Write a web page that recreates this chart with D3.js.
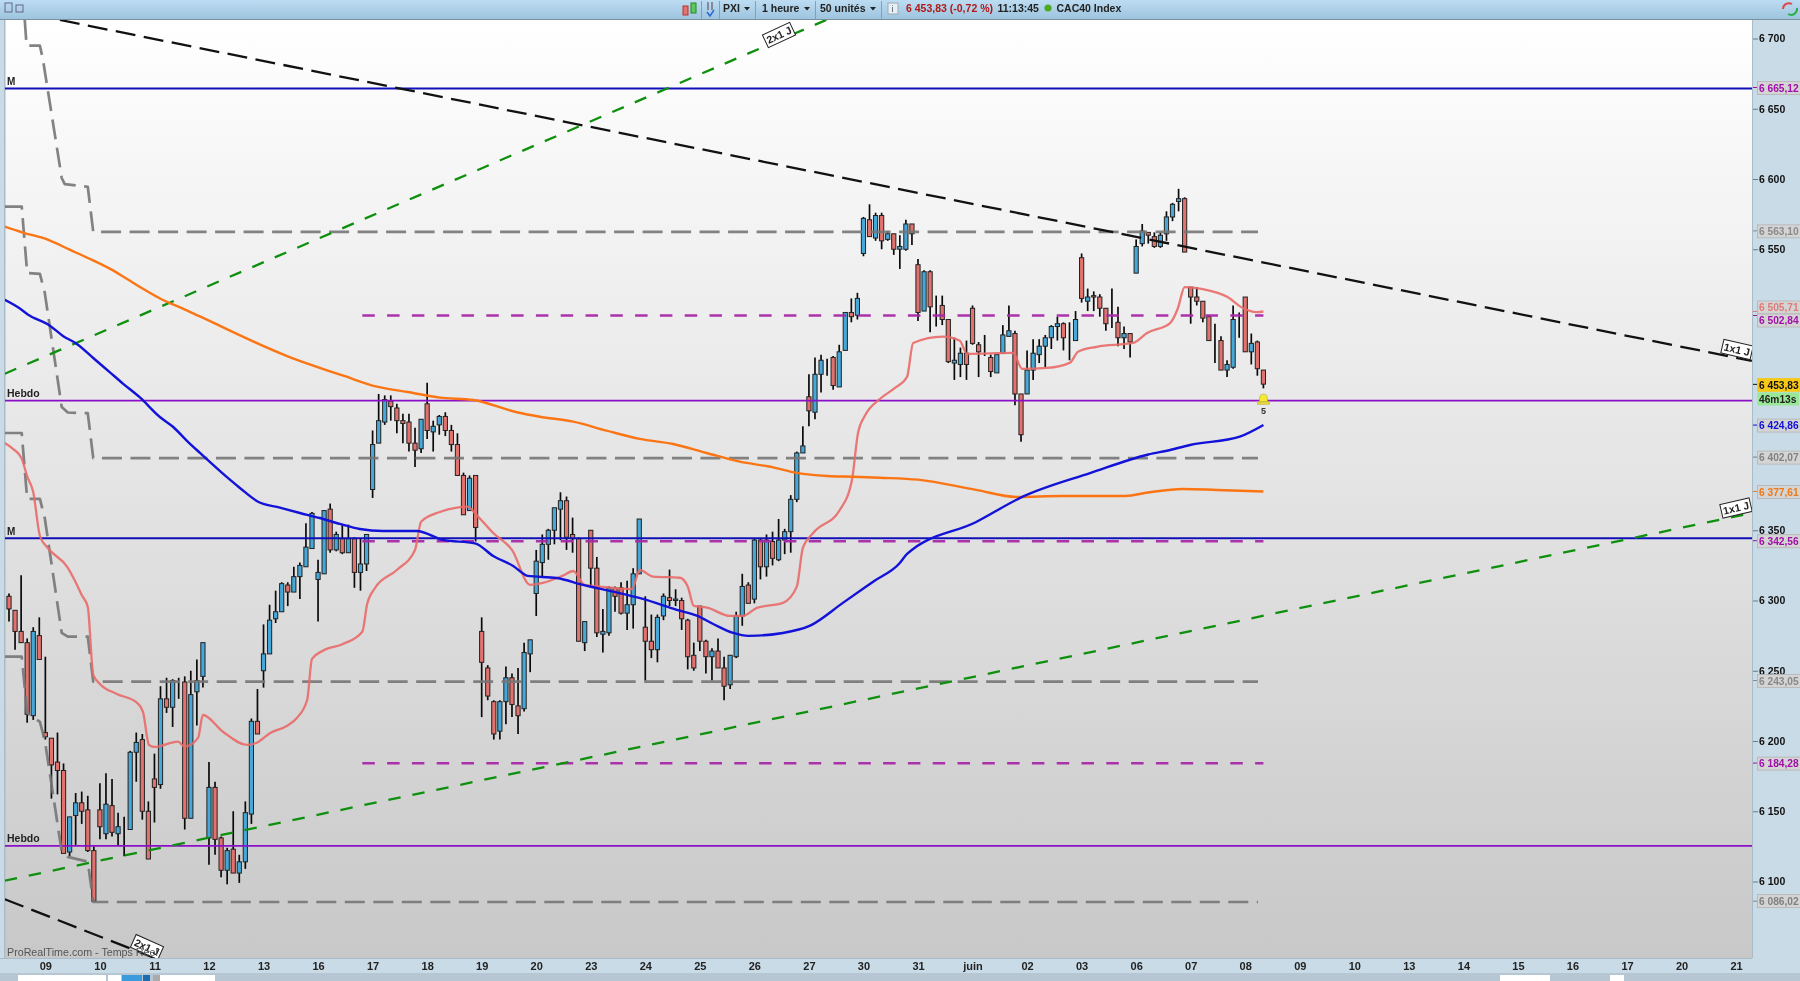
<!DOCTYPE html>
<html><head><meta charset="utf-8">
<style>
html,body{margin:0;padding:0;background:#c9dbe6;overflow:hidden}
svg{display:block;filter:blur(0.5px)}
text{font-family:"Liberation Sans",Arial,sans-serif}
</style>
<script src="https://cdn.jsdelivr.net/npm/d3@7/dist/d3.min.js"></script>
</head><body><svg id="c" width="1800" height="981"></svg>
<script>
// ---- DATA (CAC40, 1 hour candles) ----
const dayLabels=["09","10","11","12","13","16","17","18","19","20","23","24","25","26","27","30","31","juin","02","03","06","07","08","09","10","13","14","15","16","17","20","21"];
const priceTicks=[6100,6150,6200,6250,6300,6350,6550,6600,6650,6700];
const opens=[6303,6293,6278,6270,6218,6275,6206,6202,6185,6179,
6121,6147,6156,6151,6122,6151,6134,6154,6134,6138,
6137,6192,6201,6150,6173,6169,6230,6224,6242,6242,
6145,6235,6246,6131,6167,6131,6108,6123,6106,6114,
6148,6214,6250,6262,6287,6292,6311,6306,6317,6324,
6337,6315,6319,6365,6336,6344,6334,6344,6320,6326,
6379,6412,6427,6442,6437,6428,6427,6412,6408,6440,
6420,6425,6431,6421,6411,6389,6364,6389,6278,6252,
6228,6207,6228,6245,6225,6223,6262,6305,6327,6340,
6350,6365,6371,6347,6344,6270,6350,6323,6276,6277,
6309,6309,6291,6297,6319,6281,6271,6265,6289,6302,
6300,6300,6286,6261,6296,6271,6260,6264,6252,6240,
6260,6289,6311,6301,6343,6324,6342,6329,6343,6349,
6372,6405,6445,6434,6461,6472,6473,6452,6478,6505,
6503,6547,6571,6558,6574,6557,6561,6550,6550,6568,
6539,6506,6534,6510,6510,6500,6469,6468,6476,6508,
6482,6475,6473,6462,6476,6488,6490,6447,6447,6464,
6475,6481,6487,6495,6497,6485,6485,6544,6513,6517,
6516,6508,6497,6498,6487,6490,6533,6554,6562,6559,
6552,6561,6573,6584,6586,6523,6516,6513,6502,6485,
6485,6464,6466,6500,6516,6477,6484,6464];
const highs=[6305,6293,6318,6273,6281,6288,6260,6202,6206,6184,
6146,6163,6164,6161,6125,6170,6177,6173,6149,6146,
6193,6206,6205,6157,6191,6239,6245,6244,6245,6246,
6250,6258,6270,6185,6171,6132,6124,6150,6119,6157,
6216,6237,6283,6297,6307,6313,6313,6324,6327,6355,
6363,6329,6364,6369,6349,6354,6354,6345,6344,6347,
6421,6447,6446,6446,6440,6433,6433,6423,6429,6455,
6428,6432,6434,6425,6419,6391,6389,6389,6288,6254,
6229,6229,6253,6248,6252,6270,6272,6336,6347,6351,
6366,6377,6374,6359,6345,6285,6350,6331,6294,6310,
6310,6313,6314,6323,6358,6303,6290,6290,6305,6322,
6308,6302,6287,6270,6296,6272,6266,6273,6260,6261,
6292,6319,6313,6344,6344,6347,6349,6358,6351,6375,
6406,6424,6461,6473,6475,6472,6474,6482,6505,6515,
6519,6573,6582,6576,6576,6563,6561,6560,6571,6568,
6543,6535,6535,6517,6517,6500,6487,6480,6485,6510,
6484,6489,6475,6475,6496,6510,6492,6447,6478,6486,
6486,6489,6496,6502,6498,6498,6506,6547,6522,6520,
6518,6508,6522,6509,6495,6490,6557,6568,6562,6562,
6562,6577,6583,6593,6587,6523,6523,6513,6503,6497,
6488,6471,6510,6505,6516,6490,6485,6464];
const lows=[6285,6265,6270,6213,6215,6258,6201,6159,6162,6120,
6118,6126,6141,6121,6086,6130,6130,6132,6126,6118,
6137,6171,6144,6116,6142,6166,6220,6210,6230,6137,
6145,6211,6238,6112,6119,6103,6098,6106,6099,6109,
6141,6205,6238,6262,6284,6292,6296,6306,6301,6324,
6337,6285,6319,6334,6335,6333,6334,6309,6307,6321,
6373,6412,6425,6428,6419,6412,6406,6395,6405,6415,
6406,6418,6417,6406,6389,6361,6364,6342,6217,6229,
6201,6201,6212,6217,6205,6221,6249,6289,6317,6329,
6340,6343,6336,6334,6271,6264,6309,6274,6263,6275,
6292,6290,6279,6280,6319,6243,6259,6256,6286,6296,
6296,6279,6251,6250,6264,6248,6243,6252,6229,6237,
6259,6282,6298,6298,6315,6317,6325,6328,6333,6334,
6370,6405,6424,6429,6448,6460,6450,6452,6478,6498,
6500,6545,6559,6556,6550,6556,6546,6536,6549,6553,
6499,6506,6491,6495,6496,6469,6457,6459,6457,6482,
6459,6474,6459,6462,6476,6488,6439,6413,6447,6457,
6469,6466,6479,6485,6478,6471,6485,6512,6506,6506,
6502,6492,6494,6481,6479,6473,6533,6552,6554,6551,
6551,6556,6570,6577,6548,6497,6510,6498,6485,6469,
6464,6459,6465,6487,6477,6468,6460,6451];
const closes=[6294,6278,6270,6219,6278,6258,6203,6183,6179,6120,
6146,6156,6150,6122,6086,6139,6155,6135,6139,6138,
6192,6199,6150,6116,6167,6230,6224,6243,6242,6145,
6233,6243,6270,6167,6130,6108,6122,6106,6114,6149,
6214,6205,6262,6286,6292,6312,6306,6317,6325,6338,
6362,6320,6364,6336,6347,6334,6344,6320,6326,6347,
6411,6428,6443,6438,6428,6426,6412,6407,6429,6421,
6424,6431,6421,6411,6389,6361,6387,6352,6256,6232,
6205,6228,6245,6226,6218,6263,6272,6328,6340,6350,
6366,6371,6345,6344,6271,6285,6323,6277,6278,6309,
6303,6291,6297,6319,6358,6271,6265,6288,6303,6300,
6301,6287,6260,6252,6271,6260,6264,6252,6239,6261,
6289,6310,6298,6343,6324,6343,6330,6343,6349,6372,
6405,6410,6435,6461,6471,6472,6453,6477,6505,6502,
6515,6572,6559,6574,6556,6561,6550,6552,6568,6561,
6505,6534,6509,6510,6500,6470,6471,6476,6468,6483,
6477,6475,6463,6475,6489,6492,6447,6418,6464,6476,
6481,6487,6495,6497,6487,6485,6500,6515,6516,6516,
6508,6497,6497,6487,6490,6484,6552,6563,6560,6552,
6560,6573,6582,6586,6548,6516,6513,6501,6485,6485,
6464,6468,6500,6500,6477,6483,6465,6454];

const orangeBars=[-0.7,2.3,6.3,10.1,13,16.7,19.5,22.1,25.4,28.7,31.5,45.9,55.3,60.7,65.8,71.1,76.6,83.8,87.6,93.1,98.6,104.1,109.6,115.1,120.6,126.1,130,135,139.3,143.7,150,159.6,166.2,173.8,184.2,188,193.6,199.3,207];
const orangeVals=[6566.1,6561.9,6557,6549.5,6543.8,6536,6528.8,6521.9,6513.9,6507.8,6502.2,6474,6459.8,6452.2,6448.4,6444.4,6442.7,6434,6430.8,6427.3,6420.9,6415,6411.4,6405,6398.8,6394.8,6390.8,6388.6,6388.1,6387.4,6386,6378.7,6373.7,6374.4,6374.4,6376.9,6379.4,6378.7,6377.6];
const blueBars=[-0.7,1.8,3.1,6.8,8.9,11.2,13.9,16.7,18.8,21.6,24.9,27.1,29.4,31.5,36.5,38.1,41.1,44.7,48,51.3,54.6,57.9,61.7,67.3,71.6,76.9,79.9,83.2,85.6,90.4,94.7,99.7,104.6,110.2,113.5,116.2,119.5,122,127.7,132.2,137.6,142.6,147,148.2,159.6,167.2,178.5,188,191.6,194.9,203.1,207];
const blueVals=[6514,6507.8,6503.6,6495.4,6488.3,6482.6,6472.6,6462.2,6454.4,6444.5,6430.6,6423.5,6413.5,6405.1,6385.8,6380.1,6370.3,6366.1,6362.3,6358.7,6354.5,6350.9,6349.5,6349.5,6343.1,6340.7,6331.7,6324.6,6317.5,6316,6311.1,6306.3,6301.1,6293.3,6289.2,6283.3,6276.9,6274.8,6276.9,6282.1,6298.3,6313.4,6326.7,6333.1,6355.9,6373.7,6390.8,6403.9,6407.1,6410.7,6416.6,6424.9];
const salmonBars=[-0.7,0.7,2.1,3,4,5.1,6.4,9.6,10.9,12,13,13.9,15,17.8,21.1,22.1,23.1,23.9,27.9,29,31.2,32,35.3,39.3,40.9,43.1,45.9,47.5,49.2,50,51.8,55.1,58.3,59.1,60.4,64,67,68,71.1,73.9,75.6,77.4,79.9,83,86,88.1,91.4,93.1,95,97.5,102.8,104.1,106.3,110.7,112,113,115.2,119,121.1,123.4,127.7,130,131,132.7,137.1,139.1,140.1,141.3,143.7,146.2,148.2,149.2,154.1,156.9,158.1,165.7,167.2,171.3,175.1,176.4,179.5,185.5,187.8,191.6,192.9,194,197,201,203.6,205.9,207];
const salmonVals=[6412.1,6407.8,6401,6388.3,6377.2,6345.9,6337.4,6323.9,6313.9,6303.9,6295.4,6247,6240.6,6233.5,6227.3,6220.9,6197.2,6195.8,6199.5,6196,6202.2,6218.5,6206.6,6197.2,6198.8,6205.7,6210.9,6216.4,6229.2,6258.4,6264.3,6269,6277.8,6297.5,6308.9,6321.7,6336,6356.1,6363,6366.1,6366.8,6359.7,6348,6336,6311.1,6312.5,6317.7,6321,6311.1,6309.9,6308.2,6321.7,6317,6316.2,6309.9,6296.1,6294.9,6289,6289,6294.7,6298.3,6309.9,6337.4,6348,6364.4,6385.8,6419.2,6432,6443.4,6451.3,6459.3,6483.3,6487.8,6484.9,6475.5,6476.2,6464.8,6465.5,6469.3,6477.1,6480.6,6483.3,6490.4,6497.5,6508.2,6523.1,6521.7,6516.2,6508.2,6505.3,6505.7];

// pivot levels: stepped part then flat part
const stepBars=[-0.7,2.1,3,5.1,5.9,8.7,9.7,13,13.9,206.1];
const stepA=[[2.6,6713.2],[2.9,6694.9],[5.1,6694.9],[5.6,6685.1],[8.7,6600.7],[9.2,6596.4],[13,6594.5],[13.9,6562.4],[206.1,6562.4]];
const stepB=[6580.4,6580.4,6533.1,6532.5,6519.1,6437.7,6433.8,6433.3,6401.4,6401.4];
const stepC=[6419.2,6419.2,6372.3,6372.3,6358.7,6276.9,6274.3,6274.3,6242.3,6242.3];
const stepD=[6260,6260,6220,6213.6,6200.7,6121.3,6117.5,6114.1,6085.4,6085.4];

const purpleLevels=[6442.2,6125.4];
const navyLevels=[6664.4,6344.3];
const magentaLevels=[6502.84,6342.1,6184.1];
const blackTrends=[[8.4,6713.2,287.6,6470.5],[-0.7,6087.4,24.1,6045.4]];
const greenTrends=[[-0.7,6461.4,135,6713.5],[-0.7,6100.6,287.6,6362.3]];

const sideLabels=["6 665,12","6 563,10","6 505,71","6 502,84","6 453,83","6 424,86","6 402,07","6 377,61","6 342,56","6 243,05","6 184,28","6 086,02"];
const sideValues=[6665.12,6563.10,6505.71,6502.84,6453.83,6424.86,6402.07,6377.61,6342.56,6243.05,6184.28,6086.02];
const sideColors=["#a010a8","#8a8a8a","#e07a78","#a010a8","#111111","#1010d8","#808080","#f07818","#a010a8","#888888","#a010a8","#808080"];
const sideShift=[0.5,0.5,-4,5,0.5,0.5,0.5,0.5,0.5,0.5,0.5,0];

// ---- SCALES ----
const W=1800,H=981;
const plot={l:5,r:1752,t:20,b:958};
const x=d3.scaleLinear().domain([0,207]).range([9,9+6.06*207]);
const y=d3.scaleLinear().domain([6700,6100]).range([38.5,881.5]);
const svg=d3.select("#c");
const defs=svg.append("defs");
const bg=defs.append("linearGradient").attr("id","bg").attr("x1",0).attr("x2",0).attr("y1",0).attr("y2",1);
bg.append("stop").attr("offset",0).attr("stop-color","#ffffff");
bg.append("stop").attr("offset",1).attr("stop-color","#c8c8c8");
const tb=defs.append("linearGradient").attr("id","tb").attr("x1",0).attr("x2",0).attr("y1",0).attr("y2",1);
tb.append("stop").attr("offset",0).attr("stop-color","#bcdcf2");
tb.append("stop").attr("offset",1).attr("stop-color","#9ec4de");
defs.append("clipPath").attr("id","pc").append("rect").attr("x",plot.l).attr("y",plot.t).attr("width",plot.r-plot.l).attr("height",plot.b-plot.t);

svg.append("rect").attr("width",W).attr("height",H).attr("fill","#c9dbe6");
svg.append("rect").attr("x",plot.l).attr("y",plot.t).attr("width",plot.r-plot.l).attr("height",plot.b-plot.t).attr("fill","url(#bg)");
svg.append("line").attr("x1",plot.r+0.5).attr("x2",plot.r+0.5).attr("y1",plot.t).attr("y2",plot.b).attr("stroke","#a8bcc8");
svg.append("line").attr("x1",0).attr("x2",plot.r).attr("y1",plot.b+0.5).attr("y2",plot.b+0.5).attr("stroke","#a8bcc8");
svg.append("rect").attr("x",4).attr("y",plot.t).attr("width",1.5).attr("height",plot.b-plot.t).attr("fill","#a8bcc8");

const g=svg.append("g").attr("clip-path","url(#pc)");

// candles
const bars=d3.range(opens.length);
const wicks=g.append("g");
wicks.selectAll("line").data(bars).join("line")
 .attr("x1",i=>x(i)).attr("x2",i=>x(i)).attr("y1",i=>y(highs[i])).attr("y2",i=>y(lows[i]))
 .attr("stroke","#0a0a0a").attr("stroke-width",1.7);
const bodies=g.append("g");
bodies.selectAll("rect").data(bars).join("rect")
 .attr("x",i=>x(i)-2.1).attr("width",4.2)
 .attr("y",i=>y(Math.max(opens[i],closes[i])))
 .attr("height",i=>Math.abs(y(opens[i])-y(closes[i])))
 .attr("fill",i=>closes[i]<opens[i]?"#e2726e":closes[i]>opens[i]?"#46a8d8":"#111")
 .attr("stroke","#222").attr("stroke-width",1);

// horizontal solid levels
g.selectAll(".pu").data(purpleLevels).join("line").attr("class","pu")
 .attr("x1",plot.l).attr("x2",plot.r).attr("y1",d=>y(d)).attr("y2",d=>y(d)).attr("stroke","#8a10c8").attr("stroke-width",1.8);
g.selectAll(".na").data(navyLevels).join("line").attr("class","na")
 .attr("x1",plot.l).attr("x2",plot.r).attr("y1",d=>y(d)).attr("y2",d=>y(d)).attr("stroke","#1010b8").attr("stroke-width",1.8);

// magenta dashed levels
g.selectAll(".mg").data(magentaLevels).join("line").attr("class","mg")
 .attr("x1",x(58.3)).attr("x2",x(207)).attr("y1",d=>y(d)).attr("y2",d=>y(d))
 .attr("stroke","#a828a8").attr("stroke-opacity",.95).attr("stroke-width",2.5).attr("stroke-dasharray","12.5 12.3");

// stepped gray pivots
const line=d3.line().x(d=>x(d[0])).y(d=>y(d[1]));
const stepSeries=[stepA,stepBars.map((v,i)=>[v,stepB[i]]),stepBars.map((v,i)=>[v,stepC[i]]),stepBars.map((v,i)=>[v,stepD[i]])];
g.selectAll(".st").data(stepSeries).join("path").attr("class","st")
 .attr("d",d=>line(d)).attr("fill","none").attr("stroke","#767676").attr("stroke-opacity",.9)
 .attr("stroke-width",2.7).attr("stroke-dasharray","20 8.5").attr("stroke-linejoin","round");

// trend lines
const trend=(arr,col,dash)=>g.selectAll(null).data(arr).join("line")
 .attr("x1",d=>x(d[0])).attr("y1",d=>y(d[1])).attr("x2",d=>x(d[2])).attr("y2",d=>y(d[3]))
 .attr("stroke",col).attr("stroke-width",2.3).attr("stroke-dasharray",dash);
trend(blackTrends,"#111","20 8.5");
trend(greenTrends,"#0e900e","12.5 12");

// moving averages
const smooth=d3.line().x(d=>x(d[0])).y(d=>y(d[1])).curve(d3.curveMonotoneX);
const maLine=(xs,vs,col,wd,op)=>g.append("path").attr("d",smooth(xs.map((v,i)=>[v,vs[i]])))
 .attr("fill","none").attr("stroke",col).attr("stroke-width",wd).attr("stroke-opacity",op).attr("stroke-linejoin","round");
maLine(salmonBars,salmonVals,"#e86a68",2.3,.9);
maLine(orangeBars,orangeVals,"#fb7514",2.4,1);
maLine(blueBars,blueVals,"#1212d8",2.4,1);

// small chart labels
const lbl=(t,px,py,s)=>g.append("text").attr("x",px).attr("y",py).attr("font-size",s).attr("font-weight","bold").attr("fill","#222").text(t);
lbl("M",7,85,10);lbl("M",7,535,10);lbl("Hebdo",7,397,10.5);lbl("Hebdo",7,842,10.5);

// drawing tags
const tag=(t,cx,cy,rot)=>{const n=g.append("g").attr("transform",`translate(${cx},${cy}) rotate(${rot})`);
 n.append("rect").attr("x",-15).attr("y",-7).attr("width",30).attr("height",14).attr("fill","#fff").attr("stroke","#222").attr("stroke-width",1);
 n.append("text").attr("text-anchor","middle").attr("y",3.8).attr("font-size",10.5).attr("font-weight","bold").attr("fill","#222").text(t);};
tag("2x1 J",147,947,24);tag("2x1 J",779,35,-25);tag("1x1 J",1737,349.5,13);tag("1x1 J",1736,508,-13);

// watermark (sits over the tag)
g.append("text").attr("x",7).attr("y",956).attr("font-size",10.7).attr("fill","#555").text("ProRealTime.com - Temps Réel");

// alert bell
const bell=g.append("g").attr("transform",`translate(${x(207)},${y(6442.2)})`);
bell.append("rect").attr("x",-6).attr("y",0.5).attr("width",12).attr("height",3).attr("fill","#e8d83c").attr("stroke","#b0a040").attr("stroke-width",.5);
bell.append("path").attr("d","M-4,1 C-4,-6 -2.5,-6.5 0,-6.5 C2.5,-6.5 4,-6 4,1 Z").attr("fill","#f4ea30").attr("stroke","#b0a040").attr("stroke-width",.6);
bell.append("text").attr("text-anchor","middle").attr("y",13).attr("font-size",9).attr("font-weight","bold").attr("fill","#333").text("5");

// axes
const yAxis=d3.axisRight(y).tickValues(priceTicks).tickSize(5).tickPadding(1)
 .tickFormat(d=>d3.format(",")(d).replace(","," "));
const ya=svg.append("g").attr("transform",`translate(${plot.r+1},0)`).call(yAxis);
ya.select(".domain").remove();
ya.selectAll("line").attr("stroke","#6a7a84");
ya.selectAll("text").attr("font-size",10.5).attr("font-weight","bold").attr("fill","#111").attr("x",6);

const xAxis=d3.axisBottom(x).tickValues(dayLabels.map((d,k)=>6+9*k)).tickSize(0).tickPadding(4)
 .tickFormat((d,k)=>dayLabels[k]);
const xa=svg.append("g").attr("transform",`translate(0,${plot.b})`).call(xAxis);
xa.select(".domain").remove();
xa.selectAll("text").attr("font-size",11).attr("font-weight","bold").attr("fill","#222");

// side value boxes
const side=svg.append("g");
sideLabels.forEach((t,i)=>{
 const yy=y(sideValues[i]);const cy=yy+sideShift[i];
 const last=t==="6 453,83";
 side.append("line").attr("x1",plot.r+1).attr("x2",1757).attr("y1",yy).attr("y2",yy).attr("stroke",sideColors[i]);
 side.append("rect").attr("x",1757.5).attr("y",cy-6.5).attr("width",43).attr("height",13)
  .attr("fill",last?"#f8c818":"#d4d4d4").attr("stroke",last?"#f8c818":"#b4b4b4").attr("stroke-width",.8);
 side.append("text").attr("x",1759).attr("y",cy+3.8).attr("font-size",10.2).attr("font-weight","bold").attr("fill",sideColors[i]).text(t);
});
side.append("rect").attr("x",1757.5).attr("y",392.5).attr("width",41.5).attr("height",13).attr("fill","#98e898");
side.append("text").attr("x",1759).attr("y",403).attr("font-size",10.2).attr("font-weight","bold").attr("fill","#222").text("46m13s");

// top toolbar
svg.append("rect").attr("width",W).attr("height",19).attr("fill","url(#tb)");
svg.append("line").attr("x1",0).attr("x2",W).attr("y1",19.5).attr("y2",19.5).attr("stroke","#7890a0");
const seps=[701,719,755,815,881];
svg.selectAll(".sp").data(seps).join("rect").attr("class","sp").attr("x",d=>d).attr("y",1).attr("width",1).attr("height",18).attr("fill","#7fa0b6");
const barText=(t,px,col)=>svg.append("text").attr("x",px).attr("y",11.5).attr("font-size",10.5).attr("font-weight","bold").attr("fill",col||"#222").text(t);
barText("PXI",723);barText("1 heure",762);barText("50 unités",820);
barText("6 453,83 (-0,72 %)",906,"#b01818");barText("11:13:45",997.5);barText("CAC40 Index",1056.5);
[747,807,873].forEach(a=>svg.append("path").attr("d",`M${a-3},7 h6 l-3,3.5 Z`).attr("fill","#222"));
svg.append("circle").attr("cx",1048).attr("cy",8).attr("r",3.6).attr("fill","#4caa20");
svg.append("rect").attr("x",888).attr("y",3).attr("width",10).attr("height",11).attr("fill","#e8eef2").attr("stroke","#9ab");
svg.append("text").attr("x",891.5).attr("y",12).attr("font-size",9).attr("fill","#456").text("i");
svg.append("rect").attr("x",683).attr("y",6).attr("width",5).attr("height",9).attr("fill","#e2726e").attr("stroke","#b33");
svg.append("rect").attr("x",691).attr("y",3).attr("width",5).attr("height",10).attr("fill","#5cc85c").attr("stroke","#282");
svg.append("path").attr("d","M708,2 v8 M712,2 v8").attr("stroke","#778").attr("stroke-width",1.6);
svg.append("path").attr("d","M707,12 l3,4 l4,-6").attr("stroke","#2868d8").attr("stroke-width",1.5).attr("fill","none");
svg.append("path").attr("d","M1783,9 a6,6 0 0 1 9,-5").attr("stroke","#e04848").attr("stroke-width",2).attr("fill","none");
svg.append("path").attr("d","M1797,8 a6,6 0 0 1 -9,6").attr("stroke","#28b048").attr("stroke-width",2).attr("fill","none");
svg.append("rect").attr("x",5).attr("y",3).attr("width",7).attr("height",9).attr("fill","none").attr("stroke","#668");
svg.append("rect").attr("x",16).attr("y",5).attr("width",7).attr("height",7).attr("fill","none").attr("stroke","#668");

// bottom toolbar
svg.append("rect").attr("x",0).attr("y",973).attr("width",W).attr("height",8).attr("fill","#b6c6d2");
const boxes=[[18,88,"#fff"],[108,13,"#fff"],[122,20,"#3a9ade"],[143,7,"#1c6cb0"],[153,7,"#aaa"],[160,55,"#fff"],[1500,50,"#fff"],[1610,14,"#fff"]];
svg.selectAll(".bb").data(boxes).join("rect").attr("class","bb").attr("x",d=>d[0]).attr("y",975).attr("width",d=>d[1]).attr("height",6).attr("fill",d=>d[2]);
</script></body></html>
